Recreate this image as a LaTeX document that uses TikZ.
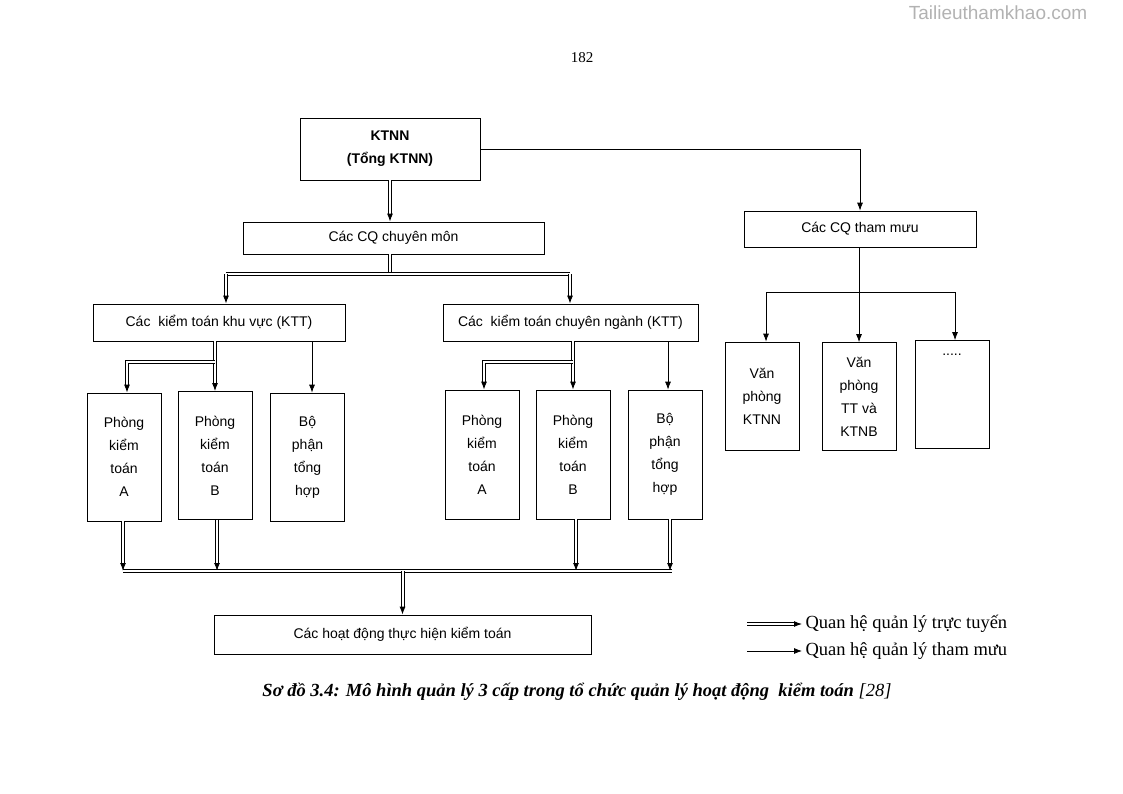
\documentclass[tikz,border=0pt]{standalone}
\usepackage{fontspec}
\setmainfont{Liberation Serif}
\newfontfamily\boxfont{Liberation Sans}
\usetikzlibrary{arrows.meta}

\begin{document}
\begin{tikzpicture}[x=1pt,y=-1pt,
  box/.style={draw, line width=0.7pt, font=\boxfont\fontsize{14}{23}\selectfont, align=center, inner sep=0pt},
  dblline/.style={line width=1pt, double, double distance=2pt},
  dbl/.style={dblline, -{Latex[length=8pt,width=6pt]}},
  sgl/.style={line width=0.8pt, -{Latex[length=8pt,width=6pt]}}]

  \useasboundingbox (0,0) rectangle (1123,794);

  % Define nodes
  \node[font=\boxfont\fontsize{19}{20}\selectfont, text=gray!60] (wm) at (998,13) {Tailieuthamkhao.com};
  \node[font=\fontsize{15}{16}\selectfont] (pg) at (582,58) {182};
  \node[box, font=\boxfont\bfseries\fontsize{14}{23}\selectfont, minimum width=180, minimum height=62] (ktnn) at (390,149) {KTNN\\(Tổng KTNN)};
  \node[box, minimum width=301, minimum height=32] (cm) at (393.5,238) {Các CQ chuyên môn};
  \node[box, minimum width=232, minimum height=36] (tm) at (860,229) {Các CQ tham mưu};
  \node[box, minimum width=252, minimum height=37] (kv) at (219,322.5) {Các\ \ kiểm toán khu vực (KTT)};
  \node[box, minimum width=255, minimum height=37] (cn) at (570.5,322.5) {Các\ \ kiểm toán chuyên ngành (KTT)};
  \node[box, minimum width=74, minimum height=128] (la) at (124,457) {Phòng\\kiểm\\toán\\A};
  \node[box, minimum width=74, minimum height=128] (lb) at (215,455.5) {Phòng\\kiểm\\toán\\B};
  \node[box, minimum width=74, minimum height=128] (lc) at (307.5,457) {Bộ\\phận\\tổng\\hợp};
  \node[box, minimum width=74, minimum height=129] (ra) at (482,454.5) {Phòng\\kiểm\\toán\\A};
  \node[box, minimum width=74, minimum height=129] (rb) at (573,454.5) {Phòng\\kiểm\\toán\\B};
  \node[box, minimum width=74, minimum height=129] (rc) at (665,454.5) {Bộ\\phận\\tổng\\hợp};
  \node[box, minimum width=74, minimum height=108] (sa) at (762,396) {Văn\\phòng\\KTNN};
  \node[box, minimum width=74, minimum height=108] (sb) at (859,396.5) {Văn\\phòng\\TT và\\KTNB};
  \node[box, minimum width=74, minimum height=108] (sc) at (952,394.5) {};
  \node[font=\boxfont\fontsize{14}{16}\selectfont, anchor=north] (dots) at (952,350) {.....};
  \node[box, minimum width=377, minimum height=39] (hd) at (402.5,634.5) {Các hoạt động thực hiện kiểm toán};

  % Bus coordinates
  \coordinate (b1) at (390,274);
  \coordinate (b2) at (0,362);
  \coordinate (b3) at (0,571);
  \coordinate (b4) at (766,292);

  % Connect the nodes
  \draw[dbl] (ktnn.south) -- (ktnn.south |- cm.north);
  \draw[sgl] (ktnn.east) -| (tm.north);
  \draw[dblline] (b1 |- cm.south) -- (b1);
  \draw[dblline] ([xshift=7pt]kv.north |- b1) -- ([xshift=-0.5pt]cn.north |- b1);
  \draw[dbl] ([xshift=7pt]kv.north |- b1) -- ([xshift=7pt]kv.north);
  \draw[dbl] ([xshift=-0.5pt]cn.north |- b1) -- ([xshift=-0.5pt]cn.north);
  \draw[dbl] (lb.north |- kv.south) -- (lb.north);
  \draw[dbl] (lb.north |- b2) -| ([xshift=3pt]la.north);
  \draw[sgl] ([xshift=4.5pt]lc.north |- kv.south) -- ([xshift=4.5pt]lc.north);
  \draw[dbl] (rb.north |- cn.south) -- (rb.north);
  \draw[dbl] (rb.north |- b2) -| ([xshift=2pt]ra.north);
  \draw[sgl] ([xshift=3pt]rc.north |- cn.south) -- ([xshift=3pt]rc.north);
  \draw[sgl] (sb.north |- tm.south) -- (sb.north);
  \draw[sgl] (b4) -- (b4 |- sa.north);
  \draw[sgl] (b4) -| ([xshift=3pt]sc.north);
  \draw[dbl] ([xshift=-1pt]la.south) -- ([xshift=-1pt]la.south |- b3);
  \draw[dbl] ([xshift=2pt]lb.south) -- ([xshift=2pt]lb.south |- b3);
  \draw[dbl] ([xshift=3pt]rb.south) -- ([xshift=3pt]rb.south |- b3);
  \draw[dbl] ([xshift=5pt]rc.south) -- ([xshift=5pt]rc.south |- b3);
  \draw[dblline] ([xshift=-1pt]la.south |- b3) -- ([xshift=7pt]rc.south |- b3);
  \draw[dbl] (hd.north |- b3) -- (hd.north);

  % Legend
  \coordinate (l1) at (747,624);
  \coordinate (l2) at (747,651);
  \node[font=\fontsize{18.5}{20}\selectfont, anchor=west] (t1) at (802,624) {Quan hệ quản lý trực tuyến};
  \node[font=\fontsize{18.5}{20}\selectfont, anchor=west] (t2) at (802,651) {Quan hệ quản lý tham mưu};
  \draw[dbl] (l1) -- (t1.west);
  \draw[sgl] (l2) -- (t2.west);

  % Caption
  \node[font=\fontsize{18.5}{20}\selectfont] (cap) at (577,692) {\textbf{\textit{Sơ đồ 3.4: Mô hình quản lý 3 cấp trong tổ chức quản lý hoạt động\ \ kiểm toán}} \textit{[28]}};

\end{tikzpicture}
\end{document}
